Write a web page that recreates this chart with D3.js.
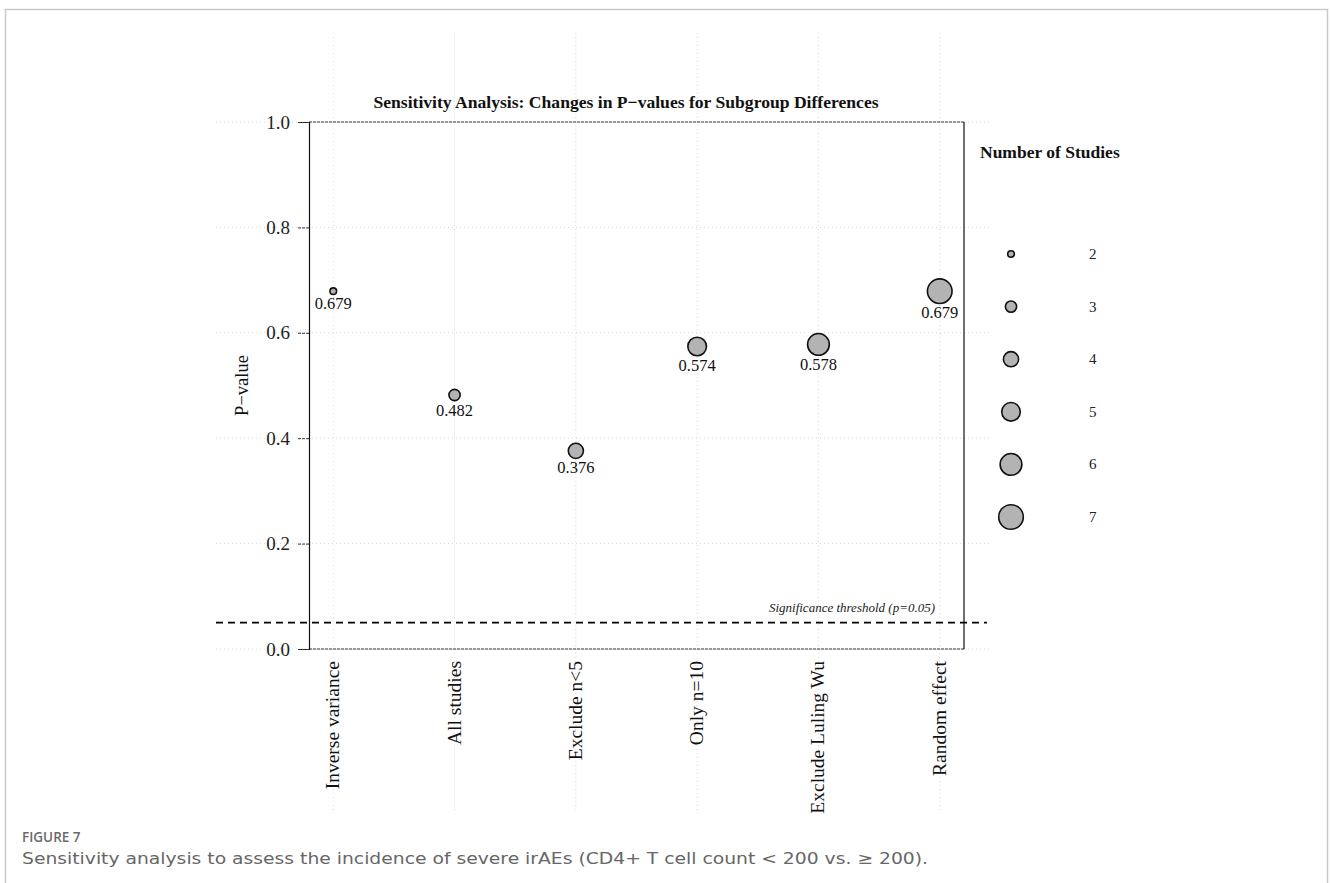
<!DOCTYPE html>
<html>
<head>
<meta charset="utf-8">
<script src="https://cdn.jsdelivr.net/npm/d3@7"></script>
<style>
  html, body { margin: 0; padding: 0; background: #fff; }
  svg { display: block; }
</style>
</head>
<body>
<svg id="chart" width="1330" height="883"></svg>
<script>
// Sensitivity analysis results
const scenarios = ["Inverse variance", "All studies", "Exclude n<5", "Only n=10", "Exclude Luling Wu", "Random effect"];
const pValues = [0.679, 0.482, 0.376, 0.574, 0.578, 0.679];
const studyCounts = [2, 3, 4, 5, 6, 7];
const yTicks = [0.0, 0.2, 0.4, 0.6, 0.8, 1.0];
const legendCounts = [2, 3, 4, 5, 6, 7];
const threshold = 0.05;

const svg = d3.select("#chart");
const serif = "'Liberation Serif', 'Times New Roman', serif";

// outer figure frame (open at the bottom)
svg.append("path")
  .attr("d", "M5.5,883 V9.5 H1327.5 V883")
  .attr("fill", "none")
  .attr("stroke", "#c9c9c9")
  .attr("stroke-width", 1.5);

const panel = { left: 309, right: 964, top: 122, bottom: 649 };

const x = d3.scalePoint().domain(scenarios).range([panel.left, panel.right]).padding(0.2);
const y = d3.scaleLinear().domain([0, 1]).range([panel.bottom, panel.top]);
const r = d3.scaleSqrt().domain([2, 7]).range([3.3, 12.3]);

// background grid
const grid = svg.append("g").attr("stroke", "#d9d9d9").attr("stroke-width", 1).attr("stroke-dasharray", "1,3");
grid.selectAll("line.h").data(yTicks).join("line")
  .attr("x1", 216).attr("x2", 989)
  .attr("y1", d => y(d)).attr("y2", d => y(d));
grid.selectAll("line.v").data(scenarios).join("line")
  .attr("x1", d => x(d)).attr("x2", d => x(d))
  .attr("y1", 33).attr("y2", 810);

// panel border
svg.append("line").attr("x1", panel.left).attr("x2", panel.right).attr("y1", panel.top).attr("y2", panel.top)
  .attr("stroke", "#333").attr("stroke-width", 1).attr("stroke-dasharray", "3,1");
svg.append("line").attr("x1", panel.left).attr("x2", panel.right).attr("y1", panel.bottom).attr("y2", panel.bottom)
  .attr("stroke", "#333").attr("stroke-width", 1).attr("stroke-dasharray", "3,1");
svg.append("line").attr("x1", panel.right).attr("x2", panel.right).attr("y1", panel.top).attr("y2", panel.bottom)
  .attr("stroke", "#111").attr("stroke-width", 1.2);

// y axis
const yAxis = svg.append("g")
  .attr("transform", `translate(${panel.left},0)`)
  .call(d3.axisLeft(y).tickValues(yTicks).tickFormat(d3.format(".1f")).tickSize(11).tickPadding(8));
yAxis.select(".domain").attr("stroke", "#111").attr("stroke-width", 1.2);
yAxis.selectAll(".tick line").attr("stroke", "#333").attr("stroke-dasharray", "3,1");
yAxis.selectAll(".tick text")
  .attr("font-family", serif).attr("font-size", 19).attr("fill", "#222");

// x axis labels (rotated)
svg.append("g").selectAll("text").data(scenarios).join("text")
  .attr("transform", d => `translate(${x(d) + 6},661) rotate(-90)`)
  .attr("text-anchor", "end")
  .attr("font-family", serif).attr("font-size", 19.5).attr("fill", "#111")
  .text(d => d);

// axis title
svg.append("text")
  .attr("transform", `translate(248,${(panel.top + panel.bottom) / 2}) rotate(-90)`)
  .attr("text-anchor", "middle")
  .attr("font-family", serif).attr("font-size", 18.5).attr("fill", "#111")
  .text("P\u2212value");

// chart title
svg.append("text")
  .attr("x", 626).attr("y", 108)
  .attr("text-anchor", "middle")
  .attr("font-family", serif).attr("font-size", 17.6).attr("font-weight", "bold").attr("fill", "#111")
  .text("Sensitivity Analysis: Changes in P\u2212values for Subgroup Differences");

// significance threshold
svg.append("line")
  .attr("x1", 216).attr("x2", 987)
  .attr("y1", y(threshold)).attr("y2", y(threshold))
  .attr("stroke", "#000").attr("stroke-width", 1.8).attr("stroke-dasharray", "7,5");
svg.append("text")
  .attr("x", 935).attr("y", y(threshold) - 11)
  .attr("text-anchor", "end")
  .attr("font-family", serif).attr("font-size", 13).attr("font-style", "italic").attr("fill", "#222")
  .text("Significance threshold (p=0.05)");

// points
const pts = scenarios.map((s, i) => ({ s, p: pValues[i], n: studyCounts[i] }));
svg.append("g").selectAll("circle").data(pts).join("circle")
  .attr("cx", d => x(d.s)).attr("cy", d => y(d.p))
  .attr("r", d => r(d.n))
  .attr("fill", "#b3b3b3").attr("stroke", "#111").attr("stroke-width", 1.6);

svg.append("g").selectAll("text").data(pts).join("text")
  .attr("x", d => x(d.s)).attr("y", d => y(d.p) + r(d.n) + 15)
  .attr("text-anchor", "middle")
  .attr("font-family", serif).attr("font-size", 16.5).attr("fill", "#111")
  .text(d => d3.format(".3f")(d.p));

// size legend
svg.append("text")
  .attr("x", 980).attr("y", 158)
  .attr("font-family", serif).attr("font-size", 17.5).attr("font-weight", "bold").attr("fill", "#111")
  .text("Number of Studies");
const leg = svg.append("g").selectAll("g").data(legendCounts).join("g")
  .attr("transform", (d, i) => `translate(1011,${254 + i * 52.6})`);
leg.append("circle").attr("r", d => r(d))
  .attr("fill", "#b3b3b3").attr("stroke", "#111").attr("stroke-width", 1.6);
leg.append("text").attr("x", 78).attr("y", 5)
  .attr("font-family", serif).attr("font-size", 15).attr("fill", "#222")
  .text(d => d);

// figure caption
svg.append("text")
  .attr("x", 22).attr("y", 842)
  .attr("font-family", "'Open Sans', 'Noto Sans', sans-serif").attr("font-size", 13.5).attr("font-weight", 600)
  .attr("fill", "#6a6a6a")
  .text("FIGURE 7");
svg.append("text")
  .attr("x", 22).attr("y", 864)
  .attr("font-family", "'DejaVu Sans', sans-serif").attr("font-size", 16).attr("fill", "#666")
  .attr("textLength", 906).attr("lengthAdjust", "spacingAndGlyphs")
  .text("Sensitivity analysis to assess the incidence of severe irAEs (CD4+ T cell count < 200 vs. \u2265 200).");
</script>
</body>
</html>
